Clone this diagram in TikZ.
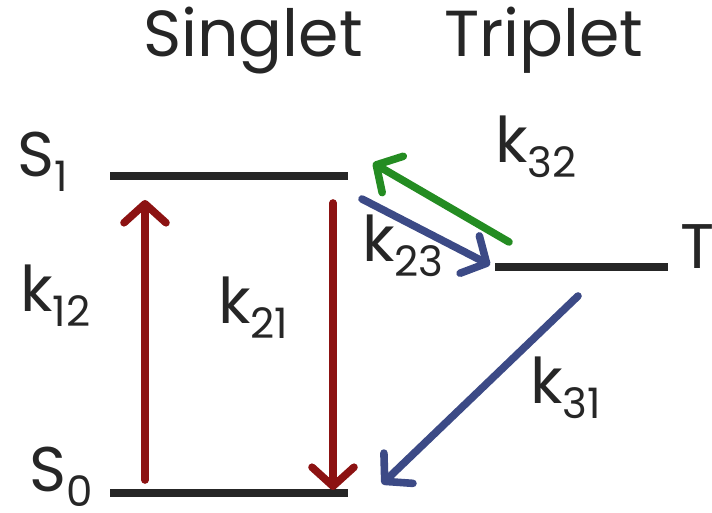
\documentclass[tikz,border=0pt]{standalone}
\usepackage{fontspec}
\setmainfont{Poppins}
\usetikzlibrary{arrows.meta}

\definecolor{levelgray}{RGB}{38,38,38}
\definecolor{ratered}{RGB}{140,18,18}
\definecolor{rateblue}{RGB}{60,74,134}
\definecolor{rategreen}{RGB}{36,140,34}

\newcommand{\bigfont}{\fontsize{31.5pt}{34pt}\selectfont}
\newcommand{\subfont}{\fontsize{21pt}{23pt}\selectfont}
\newcommand{\ratelbl}[2]{#1\raisebox{-7.5pt}{\subfont #2}}

\tikzset{
  level/.style={levelgray,line width=4pt},
  rate/.style={line width=3.8pt,line cap=round,
    -{Straight Barb[round,length=9.5pt,width=21pt]}},
  lbl/.style={anchor=base west,inner sep=0pt,text=levelgray,font=\bigfont},
  head/.style={anchor=base,inner sep=0pt,text=levelgray,
    font=\fontsize{32.5pt}{35pt}\selectfont}
}

\begin{document}
\begin{tikzpicture}[x=0.5pt,y=-0.5pt]

\useasboundingbox (0,0) rectangle (712,513);

%=================================================
% HEADINGS
%=================================================

\node[head] (singlet) at (253,57) {Singlet};
\node[head] (triplet) at (544,57) {Triplet};

%=================================================
% LEVELS
%=================================================

% S1
\coordinate (s1l) at (110,176);
\coordinate (s1r) at (348,176);
\draw[level] (s1l)--(s1r);
\node[lbl] (s1) at (17,177) {\ratelbl{S}{1}};

% S0
\coordinate (s0l) at (110,493);
\coordinate (s0r) at (348,493);
\draw[level] (s0l)--(s0r);
\node[lbl] (s0) at (29,491) {\ratelbl{S}{0}};

% T
\coordinate (tl) at (495,267);
\coordinate (tr) at (668,267);
\draw[level] (tl)--(tr);
\node[lbl] (t) at (680,269) {T};

%=================================================
% RATES
%=================================================

% k12 up
\coordinate (a12) at (145,480);
\coordinate (b12) at (145,200);
\draw[rate,ratered] (a12)--(b12);
\node[lbl] (k12) at (20,312) {\ratelbl{k}{12}};

% k21 down
\coordinate (a21) at (333,203);
\coordinate (b21) at (333,490);
\draw[rate,ratered] (a21)--(b21);
\node[lbl] (k21) at (218,323) {\ratelbl{k}{21}};

% k23
\coordinate (a23) at (362,199);
\coordinate (b23) at (490,265);
\draw[rate,rateblue] (a23)--(b23);
\node[lbl] (k23) at (362,262) {\ratelbl{k}{23}};

% k32
\coordinate (a32) at (509,242);
\coordinate (b32) at (373,163);
\draw[rate,rategreen] (a32)--(b32);
\node[lbl] (k32) at (495,163) {\ratelbl{k}{32}};

% k31
\coordinate (a31) at (578,296);
\coordinate (b31) at (382,484);
\draw[rate,rateblue] (a31)--(b31);
\node[lbl] (k31) at (530,403) {\ratelbl{k}{31}};

\end{tikzpicture}
\end{document}
